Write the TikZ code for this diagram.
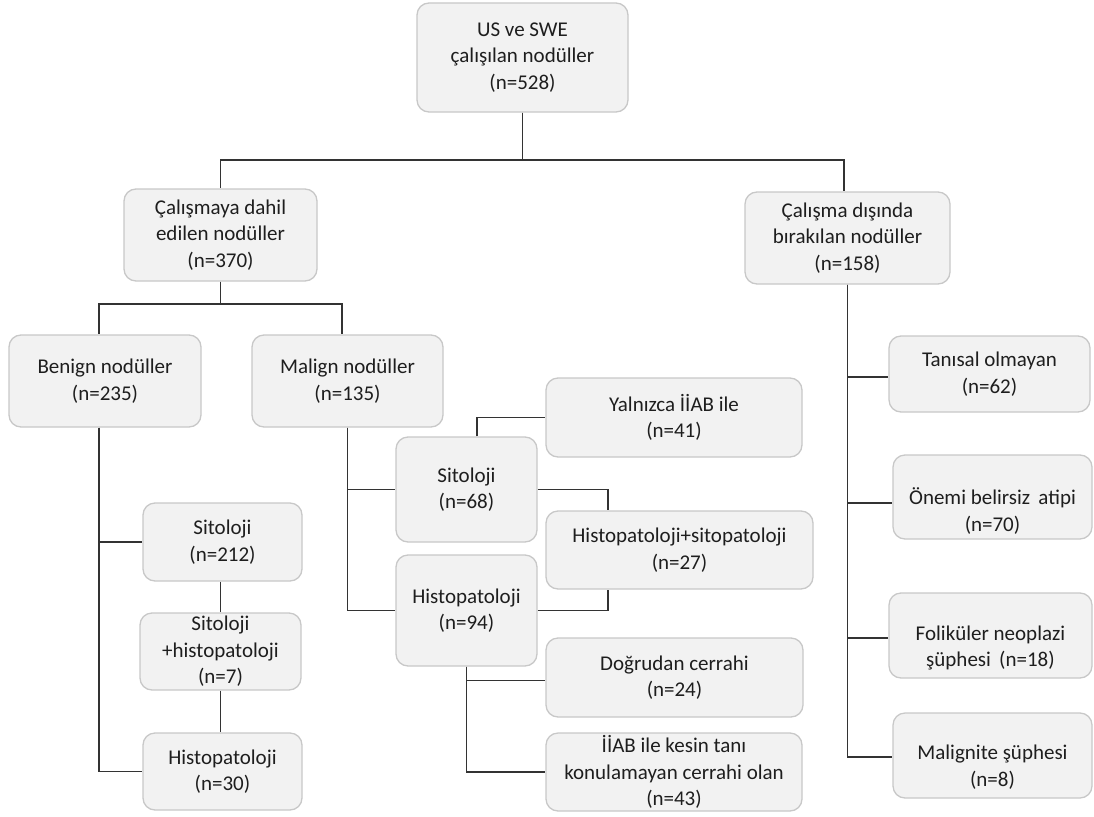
\documentclass[tikz,border=0pt]{standalone}
\usepackage{fontspec}
\setmainfont{Carlito}
\definecolor{boxfill}{HTML}{F2F2F2}
\definecolor{boxline}{HTML}{C8C8C8}
\definecolor{linkcol}{HTML}{333333}
\definecolor{ink}{HTML}{1E1E1E}
\begin{document}
\begin{tikzpicture}[x=1pt,y=-1pt,
  box/.style={draw=boxline, fill=boxfill, line width=1.3pt, rounded corners=12pt,
    inner sep=0pt, align=center, text=ink, font=\fontsize{21}{26.5}\selectfont},
  txt/.style={inner sep=0pt, align=center, text=ink, font=\fontsize{21}{26.5}\selectfont},
  link/.style={draw=linkcol, line width=1.8pt}]
\useasboundingbox (0,0) rectangle (1094,816);

% top level
\node[box, minimum width=211pt, minimum height=109pt] (top) at (522.5,57.5)
  {US ve SWE\\çalışılan nodüller\\(n=528)};
\node[box, minimum width=193pt, minimum height=92pt] (incl) at (220.5,235)
  {Çalışmaya dahil\\edilen nodüller\\(n=370)};
\node[box, minimum width=205pt, minimum height=92pt] (excl) at (847.5,238)
  {Çalışma dışında\\bırakılan nodüller\\(n=158)};

% included nodules
\node[box, minimum width=192pt, minimum height=92pt] (benign) at (105,381)
  {Benign nodüller\\(n=235)};
\node[box, minimum width=191pt, minimum height=92pt] (malign) at (347.5,381)
  {Malign nodüller\\(n=135)};

% benign branch
\node[box, minimum width=159pt, minimum height=78pt] (bsit) at (222.5,542)
  {Sitoloji\\(n=212)};
\node[box, minimum width=161pt, minimum height=77pt] (bsh) at (220.5,651.5)
  {Sitoloji\\+histopatoloji\\(n=7)};
\node[box, minimum width=159pt, minimum height=77pt] (bhist) at (222.5,771.5)
  {Histopatoloji\\(n=30)};

% malign branch
\node[box, minimum width=141pt, minimum height=105pt] (msit) at (466.5,489.5)
  {Sitoloji\\(n=68)};
\node[box, minimum width=141pt, minimum height=111pt] (mhist) at (466.5,610.5)
  {Histopatoloji\\(n=94)};
\node[box, minimum width=256pt, minimum height=79pt] (yal) at (674,417.5)
  {Yalnızca İİAB ile\\(n=41)};
\node[box, minimum width=267pt, minimum height=78pt] (hs) at (679.5,550)
  {Histopatoloji+sitopatoloji\\(n=27)};
\node[box, minimum width=257pt, minimum height=79pt] (dog) at (674.5,677.5)
  {Doğrudan cerrahi\\(n=24)};
\node[box, minimum width=256pt, minimum height=78pt] (iiab) at (674,772)
  {İİAB ile kesin tanı\\konulamayan cerrahi olan\\(n=43)};

% excluded nodules
\node[box, minimum width=201pt, minimum height=76pt] (tan) at (989.5,374)
  {Tanısal olmayan\\(n=62)};
\node[box, minimum width=199pt, minimum height=84pt] (onemi) at (992.5,497) {};
\node[txt] (onemi-t) at (992.5,511) {Önemi belirsiz\, atipi\\(n=70)};
\node[box, minimum width=203pt, minimum height=85pt] (fol) at (990.5,635.5) {};
\node[txt] (fol-t) at (990.5,648) {Foliküler neoplazi\\şüphesi\, (n=18)};
\node[box, minimum width=199pt, minimum height=85pt] (mal) at (992.5,755.5) {};
\node[txt] (mal-t) at (992.5,767) {Malignite şüphesi\\(n=8)};

% connectors
\draw[link] (top.south) -- ++(0,47) -| (incl.north);
\draw[link] (top.south) -- ++(0,47) -| ([xshift=-3.5pt]excl.north);
\draw[link] (incl.south) -- ++(0,22) -| ([xshift=-6pt]benign.north);
\draw[link] (incl.south) -- ++(0,22) -| ([xshift=-5.5pt]malign.north);

\draw[link] ([xshift=-6pt]benign.south) |- (bsit.west);
\draw[link] ([xshift=-6pt]benign.south) |- (bhist.west);
\draw[link] (bsh.north |- bsit.south) -- (bsh.north);
\draw[link] (bsh.south) -- (bsh.south |- bhist.north);

\draw[link] (malign.south) |- (msit.west);
\draw[link] (malign.south) |- (mhist.west);
\draw[link] ([xshift=10.5pt]msit.north) |- (yal.west);
\draw[link] (msit.east) -| ([xshift=-71.5pt]hs.north);
\draw[link] (mhist.east) -| ([xshift=-71.5pt]hs.south);
\draw[link] (mhist.south) |- ([yshift=-3pt]dog.west);
\draw[link] (mhist.south) |- (iiab.west);

\draw[link] (excl.south) |- ([yshift=-3pt]tan.west);
\draw[link] (excl.south) |- ([yshift=-6pt]onemi.west);
\draw[link] (excl.south) |- ([yshift=-2.5pt]fol.west);
\draw[link] (excl.south) |- ([yshift=-1.5pt]mal.west);
\end{tikzpicture}
\end{document}
